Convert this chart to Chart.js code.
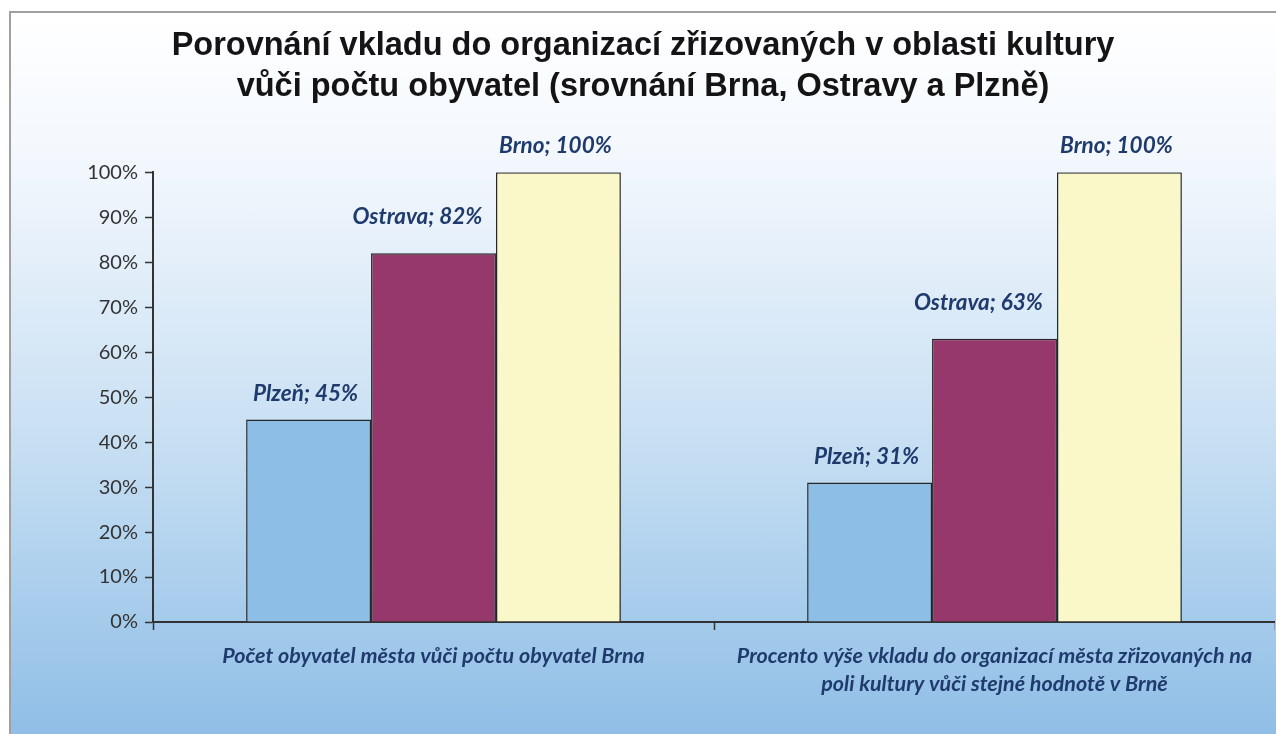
<!DOCTYPE html>
<html>
<head>
<meta charset="utf-8">
<script src="https://cdn.jsdelivr.net/npm/chart.js@4"></script>
<style>
  html, body { margin: 0; padding: 0; background: #fff; overflow: hidden; }
  .frame {
    position: absolute;
    left: 9px;
    top: 11px;
    width: 1300px;
    height: 760px;
    border: 2px solid #a0a0a2;
    background: linear-gradient(to bottom, #ffffff 0%, #f2f7fd 20%, #c9e0f3 55%, #8fbee6 95%);
  }
  canvas { display: block; }
</style>
</head>
<body>
<div class="frame">
  <canvas id="chart" width="1264" height="721"></canvas>
</div>
<script>
const categories = [
  "Počet obyvatel města vůči počtu obyvatel Brna",
  ["Procento výše vkladu do organizací města zřizovaných na", "poli kultury vůči stejné hodnotě v Brně"],
];
const cities = ["Plzeň", "Ostrava", "Brno"];
const plzen = [45, 31];
const ostrava = [82, 63];
const brno = [100, 100];
const yTicks = [0, 10, 20, 30, 40, 50, 60, 70, 80, 90, 100];

const colors = ["#8dbee6", "#96386b", "#faf8c8"];
// label offsets per city (Excel nudges the middle labels a bit)
const labelShift = [{ dx: -3, dy: 26 }, { dx: -16, dy: 36 }, { dx: -3, dy: 27 }];

const barLabels = {
  id: "barLabels",
  afterDatasetsDraw(chart) {
    const ctx = chart.ctx;
    ctx.save();
    ctx.font = "italic bold 22.5px Lato";
    ctx.fillStyle = "#1f3a6c";
    ctx.textAlign = "center";
    ctx.textBaseline = "middle";
    chart.data.datasets.forEach((ds, i) => {
      chart.getDatasetMeta(i).data.forEach((bar, j) => {
        ctx.fillText(ds.label + "; " + ds.data[j] + "%", bar.x + labelShift[i].dx, bar.y - labelShift[i].dy);
      });
    });
    ctx.restore();
  },
};

new Chart(document.getElementById("chart"), {
  type: "bar",
  data: {
    labels: categories,
    datasets: [
      { label: cities[0], data: plzen, backgroundColor: colors[0] },
      { label: cities[1], data: ostrava, backgroundColor: colors[1] },
      { label: cities[2], data: brno, backgroundColor: colors[2] },
    ],
  },
  options: {
    responsive: false,
    animation: false,
    devicePixelRatio: 1,
    layout: { padding: { left: 0, right: 0, top: 0, bottom: 0 } },
    datasets: {
      bar: {
        categoryPercentage: 0.668,
        barPercentage: 1,
        borderColor: "#262626",
        borderWidth: 1.5,
      },
    },
    plugins: {
      legend: { display: false },
      tooltip: { enabled: false },
      title: {
        display: true,
        text: [
          "Porovnání vkladu do organizací zřizovaných v oblasti kultury",
          "vůči počtu obyvatel (srovnání Brna, Ostravy a Plzně)",
        ],
        color: "#141414",
        font: { family: "Liberation Sans", size: 32.5, weight: "bold", lineHeight: 1.25 },
        padding: { top: 13, bottom: 65 },
      },
    },
    scales: {
      x: {
        offset: true,
        grid: {
          offset: true,
          drawOnChartArea: false,
          tickLength: 8,
          tickColor: (c) => (c.index === 2 ? "rgba(0,0,0,0)" : "#333"),
          tickWidth: 1.5,
        },
        border: { color: "#333", width: 2 },
        ticks: {
          color: "#1f3a6c",
          font: { family: "Lato", size: 21.5, style: "italic", weight: "bold", lineHeight: 1.3 },
          padding: 12,
          maxRotation: 0,
        },
        afterFit(scale) { scale.height = 112; },
      },
      y: {
        min: 0,
        max: 100,
        afterBuildTicks(scale) { scale.ticks = yTicks.map((v) => ({ value: v })); },
        grid: {
          drawOnChartArea: false,
          tickLength: 8,
          tickColor: "#333",
          tickWidth: 1.5,
        },
        border: { color: "#333", width: 2 },
        ticks: {
          color: "#333",
          font: { family: "Lato", size: 20 },
          padding: 7,
          callback: (v) => v + "%",
        },
        afterFit(scale) { scale.width = 142; },
      },
    },
  },
  plugins: [barLabels],
});
</script>
</body>
</html>
